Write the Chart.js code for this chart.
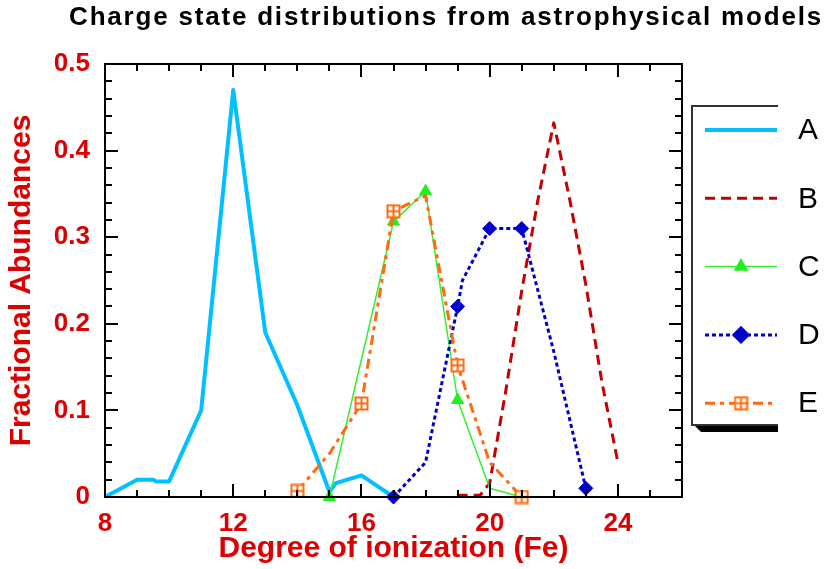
<!DOCTYPE html>
<html>
<head>
<meta charset="utf-8">
<title>Charge state distributions</title>
<script src="https://cdn.jsdelivr.net/npm/chart.js@4.4.1/dist/chart.umd.min.js"></script>
<style>
  html, body { margin: 0; padding: 0; background: #fff; }
  #wrap { width: 827px; height: 569px; position: relative; }
</style>
</head>
<body>
<div id="wrap"><canvas id="chart" width="827" height="569"></canvas></div>
<script>
// --- DATA ---
const titleText = 'Charge state distributions from astrophysical models';
const xTitle = 'Degree of ionization (Fe)';
const yTitle = 'Fractional Abundances';
const seriesNames = ['A', 'B', 'C', 'D', 'E'];

const xMin = 8, xMax = 26, xStep = 4;
const yMin = 0, yMax = 0.5, yStep = 0.1;

const aDeg = [8, 9, 9.5, 9.6, 10, 11, 12, 13, 14, 15, 15.2, 16, 17];
const aVal = [0, 0.02, 0.02, 0.018, 0.018, 0.1, 0.47, 0.19, 0.106, 0.006, 0.016, 0.025, 0];

const bDeg = [19, 19.7, 20, 20.5, 21, 21.5, 22, 22.5, 23, 23.5, 24];
const bVal = [0.002, 0.002, 0.016, 0.122, 0.238, 0.342, 0.432, 0.343, 0.245, 0.133, 0.04];

const cDeg = [15, 17, 18, 19, 20, 21];
const cVal = [0, 0.318, 0.353, 0.112, 0.01, 0];
const cMarked = [true, true, true, true, false, false];

const dDeg = [17, 18, 19, 19.15, 20, 21, 22, 23];
const dVal = [0, 0.04, 0.22, 0.25, 0.31, 0.31, 0.168, 0.01];
const dMarked = [true, false, true, false, true, true, false, true];

const eDeg = [14, 15, 16, 17, 18, 19, 20, 21];
const eVal = [0.007, 0.05, 0.108, 0.33, 0.348, 0.152, 0.04, 0];
const eMarked = [true, false, true, true, false, true, false, true];

// --- HELPERS ---
const FONT = '"Liberation Sans", Arial, Helvetica, sans-serif';
const RED = '#dd0000';

const toPoints = (xs, ys) => xs.map((x, i) => ({ x, y: ys[i] }));

// little square with a cross in it, like the E markers
const boxCross = (color) => {
    const c = document.createElement('canvas');
    c.width = 15; c.height = 15;
    const g = c.getContext('2d');
    g.fillStyle = '#fff';
    g.fillRect(1, 1, 13, 13);
    g.strokeStyle = color;
    g.lineWidth = 2;
    g.strokeRect(1.5, 1.5, 12, 12);
    g.beginPath();
    g.moveTo(7.5, 1.5); g.lineTo(7.5, 13.5);
    g.moveTo(1.5, 7.5); g.lineTo(13.5, 7.5);
    g.stroke();
    return c;
};

// --- PLUGINS ---
const titlePlugin = {
    id: 'plotTitle',
    afterDraw(chart) {
        const ctx = chart.ctx;
        ctx.save();
        ctx.fillStyle = '#000';
        ctx.font = 'bold 26px ' + FONT;
        if ('letterSpacing' in ctx) ctx.letterSpacing = '1.8px';
        ctx.textAlign = 'center';
        ctx.textBaseline = 'middle';
        ctx.fillText(titleText, 446, 18);
        ctx.restore();
    }
};

// frame + inward ticks on all four sides
const framePlugin = {
    id: 'frameTicks',
    afterDraw(chart) {
        const { ctx, chartArea: a, scales: { x, y } } = chart;
        ctx.save();
        ctx.strokeStyle = '#000';
        ctx.lineWidth = 2;
        ctx.beginPath();
        for (let v = xMin; v <= xMax; v += 1) {
            const px = Math.round(x.getPixelForValue(v));
            const len = (v - xMin) % xStep === 0 ? 13 : 7;
            ctx.moveTo(px, a.bottom); ctx.lineTo(px, a.bottom - len);
            ctx.moveTo(px, a.top); ctx.lineTo(px, a.top + len);
        }
        for (let k = 0; k <= 25; k++) {
            const py = Math.round(y.getPixelForValue(k * 0.02));
            const len = k % 5 === 0 ? 13 : 7;
            ctx.moveTo(a.left, py); ctx.lineTo(a.left + len, py);
            ctx.moveTo(a.right, py); ctx.lineTo(a.right - len, py);
        }
        ctx.stroke();
        ctx.strokeRect(a.left, a.top, a.right - a.left, a.bottom - a.top);
        ctx.restore();
    }
};

const legendPlugin = {
    id: 'legendBox',
    afterDraw(chart) {
        const ctx = chart.ctx;
        const left = 692, top = 106, right = 778, bottom = 425;
        ctx.save();
        // drop shadow under the box
        ctx.fillStyle = '#000';
        ctx.beginPath();
        ctx.moveTo(left + 2, bottom);
        ctx.lineTo(right, bottom);
        ctx.lineTo(right, bottom + 7);
        ctx.lineTo(left + 9, bottom + 7);
        ctx.closePath();
        ctx.fill();
        ctx.strokeStyle = '#333';
        ctx.lineWidth = 2;
        ctx.beginPath();
        ctx.moveTo(right, top); ctx.lineTo(left, top);
        ctx.lineTo(left, bottom); ctx.lineTo(right, bottom);
        ctx.stroke();

        chart.data.datasets.forEach((ds, i) => {
            const yy = 130 + i * 68.3;
            ctx.strokeStyle = ds.borderColor;
            ctx.lineWidth = ds.borderWidth;
            ctx.setLineDash(ds.borderDash || []);
            ctx.beginPath();
            ctx.moveTo(705, yy); ctx.lineTo(777, yy);
            ctx.stroke();
            ctx.setLineDash([]);
            if (ds.legendMarker) {
                ctx.fillStyle = ds.pointBackgroundColor;
                ctx.strokeStyle = ds.pointBorderColor;
                Chart.helpers.drawPoint(ctx, {
                    pointStyle: ds.pointStyle, radius: ds.legendMarker, borderWidth: 1, rotation: 0
                }, 741, yy);
            }
            ctx.fillStyle = '#000';
            ctx.font = '30px ' + FONT;
            ctx.textAlign = 'left';
            ctx.textBaseline = 'middle';
            ctx.fillText(ds.label, 798, yy + 1);
        });
        ctx.restore();
    }
};

// --- CHART ---
const eMarker = boxCross('#ff6a10');

const ctx = document.getElementById('chart').getContext('2d');
new Chart(ctx, {
    type: 'line',
    data: {
        datasets: [
            {
                label: seriesNames[0],
                data: toPoints(aDeg, aVal),
                borderColor: '#00c0ff',
                borderWidth: 4,
                pointRadius: 0,
                order: 5
            },
            {
                label: seriesNames[1],
                data: toPoints(bDeg, bVal),
                borderColor: '#c40000',
                borderWidth: 3,
                borderDash: [10, 6],
                pointRadius: 0,
                order: 4
            },
            {
                label: seriesNames[2],
                data: toPoints(cDeg, cVal),
                borderColor: '#33ee33',
                borderWidth: 1.5,
                pointStyle: 'triangle',
                pointRadius: cMarked.map(m => m ? 7 : 0),
                pointBackgroundColor: '#22ee22',
                pointBorderColor: '#22ee22',
                pointBorderWidth: 1,
                legendMarker: 7,
                order: 3
            },
            {
                label: seriesNames[3],
                data: toPoints(dDeg, dVal),
                borderColor: '#0000cc',
                borderWidth: 3,
                borderDash: [4, 3],
                pointStyle: 'rectRot',
                pointRadius: dMarked.map(m => m ? 7 : 0),
                pointBackgroundColor: '#0000cc',
                pointBorderColor: '#0000cc',
                pointBorderWidth: 1,
                legendMarker: 7,
                order: 2
            },
            {
                label: seriesNames[4],
                data: toPoints(eDeg, eVal),
                borderColor: '#ff6a10',
                borderWidth: 3,
                borderDash: [10, 5, 4, 5],
                pointStyle: eMarker,
                pointRadius: eMarked.map(m => m ? 7 : 0),
                pointBackgroundColor: '#fff',
                pointBorderColor: '#ff6a10',
                legendMarker: 7,
                order: 1
            }
        ].map(ds => ({ ...ds, fill: false, tension: 0, clip: false, borderJoinStyle: 'round', pointHoverRadius: 0 }))
    },
    options: {
        responsive: false,
        animation: false,
        events: [],
        layout: { padding: { top: 64, right: 145, left: 0, bottom: 0 } },
        plugins: {
            legend: { display: false },
            title: { display: false },
            tooltip: { enabled: false }
        },
        scales: {
            x: {
                type: 'linear',
                min: xMin,
                max: xMax,
                grid: { display: false, drawTicks: false },
                border: { display: false },
                ticks: {
                    stepSize: xStep,
                    includeBounds: false,
                    padding: 11,
                    color: RED,
                    font: { family: FONT, size: 26, weight: 'bold' },
                    maxRotation: 0
                },
                title: {
                    display: true,
                    text: xTitle,
                    color: RED,
                    font: { family: FONT, size: 30, weight: 'bold' },
                    padding: { top: 0, bottom: 2 }
                },
                afterFit: (scale) => { scale.height = 72; }
            },
            y: {
                min: yMin,
                max: yMax,
                grid: { display: false, drawTicks: false },
                border: { display: false },
                ticks: {
                    stepSize: yStep,
                    padding: 15,
                    color: RED,
                    font: { family: FONT, size: 26, weight: 'bold' }
                },
                title: {
                    display: true,
                    text: yTitle,
                    color: RED,
                    font: { family: FONT, size: 30, weight: 'bold' },
                    padding: { top: 4, bottom: 0 }
                },
                afterFit: (scale) => { scale.width = 105; }
            }
        }
    },
    plugins: [framePlugin, legendPlugin, titlePlugin]
});
</script>
</body>
</html>
